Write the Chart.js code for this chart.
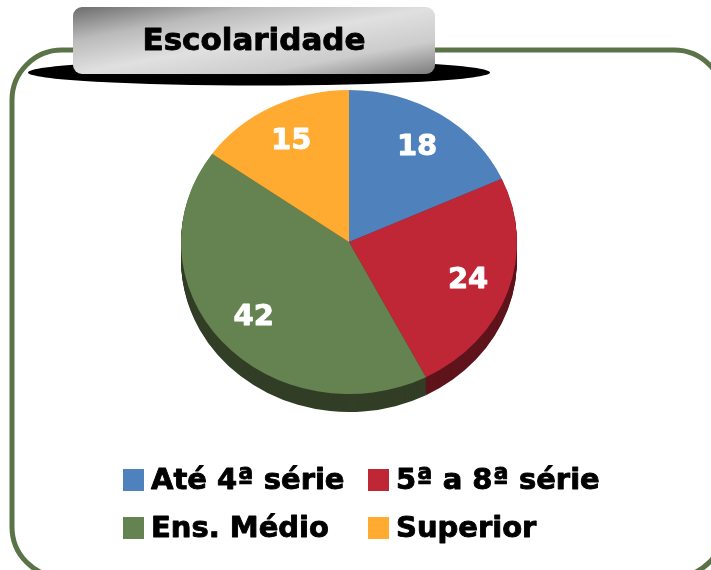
<!DOCTYPE html>
<html>
<head>
<meta charset="utf-8">
<script src="https://cdn.jsdelivr.net/npm/chart.js@4"></script>
<style>
  html, body { margin: 0; padding: 0; background: #fff; overflow: hidden; }
  #wrap { width: 711px; height: 570px; position: relative; }
</style>
</head>
<body>
<div id="wrap"><canvas id="grafico" width="711" height="570"></canvas></div>
<script>
const titulo = "Escolaridade";
const categorias = ["Até 4ª série", "5ª a 8ª série", "Ens. Médio", "Superior"];
const valores = [18, 24, 42, 15];
const cores = ["#4F81BD", "#C02736", "#648350", "#FFAA31"];
const coresLado = ["#2C4A6E", "#5F141C", "#323E26", "#8A5A14"];

const FONTE = "'DejaVu Sans', Verdana, sans-serif";
const ACHATAR = 0.905;   // pie is drawn a bit flattened, like the 3D original
const PROFUNDIDADE = 18;

function roundRect(ctx, x, y, w, h, r) {
    ctx.beginPath();
    ctx.moveTo(x + r, y);
    ctx.lineTo(x + w - r, y);
    ctx.arcTo(x + w, y, x + w, y + r, r);
    ctx.lineTo(x + w, y + h - r);
    ctx.arcTo(x + w, y + h, x + w - r, y + h, r);
    ctx.lineTo(x + r, y + h);
    ctx.arcTo(x, y + h, x, y + h - r, r);
    ctx.lineTo(x, y + r);
    ctx.arcTo(x, y, x + r, y, r);
    ctx.closePath();
}

// bold text drawn a little heavier (the original font is a heavy Verdana)
function textoForte(ctx, txt, x, y, cor) {
    ctx.fillStyle = cor;
    ctx.strokeStyle = cor;
    ctx.lineWidth = 0.9;
    ctx.lineJoin = 'round';
    ctx.fillText(txt, x, y);
    ctx.strokeText(txt, x, y);
}

// frame, shadow and title box
const fundo = {
    id: 'fundo',
    beforeDraw(chart) {
        const ctx = chart.ctx;
        ctx.save();
        ctx.fillStyle = '#fff';
        ctx.fillRect(0, 0, chart.width, chart.height);

        // green rounded frame (right and bottom run off the picture)
        roundRect(ctx, 12, 50, 712, 527, 50);
        ctx.lineWidth = 5;
        ctx.strokeStyle = '#5A7448';
        ctx.stroke();

        // black ellipse under the title
        ctx.beginPath();
        ctx.ellipse(259, 72.5, 231, 13, 0, 0, Math.PI * 2);
        ctx.fillStyle = '#000';
        ctx.fill();

        // title box, diagonal gray shading
        ctx.save();
        roundRect(ctx, 73, 7, 362, 67, 9);
        ctx.clip();
        ctx.translate(73, 7);
        ctx.scale(362, 67);
        let g = ctx.createLinearGradient(0, 0, 1, 1);
        g.addColorStop(0, '#6c6c6c');
        g.addColorStop(0.25, '#bababa');
        g.addColorStop(0.5, '#e0e0e0');
        g.addColorStop(0.75, '#cccccc');
        g.addColorStop(1, '#7c7c7c');
        ctx.fillStyle = g;
        ctx.fillRect(0, 0, 1, 1);
        ctx.restore();

        ctx.font = "bold 31px " + FONTE;
        ctx.textAlign = 'center';
        ctx.textBaseline = 'middle';
        textoForte(ctx, titulo, 254, 42, '#000');
        ctx.restore();
    }
};

// flatten the pie and draw the dark side under it
const pizza3d = {
    id: 'pizza3d',
    beforeDatasetsDraw(chart) {
        const ctx = chart.ctx;
        const arcs = chart.getDatasetMeta(0).data;
        const cx = arcs[0].x, cy = arcs[0].y;
        for (let d = PROFUNDIDADE; d >= 1; d--) {
            ctx.save();
            ctx.translate(cx, cy + d);
            ctx.scale(1, ACHATAR);
            arcs.forEach((a, i) => {
                ctx.beginPath();
                ctx.moveTo(0, 0);
                ctx.arc(0, 0, a.outerRadius, a.startAngle, a.endAngle);
                ctx.closePath();
                ctx.fillStyle = coresLado[i];
                ctx.fill();
            });
            ctx.restore();
        }
        ctx.save();
        ctx.translate(cx, cy);
        ctx.scale(1, ACHATAR);
        ctx.translate(-cx, -cy);
    },
    afterDatasetsDraw(chart) {
        chart.ctx.restore();
    }
};

// value labels and 2x2 legend
const rotulos = {
    id: 'rotulos',
    afterDraw(chart) {
        const ctx = chart.ctx;
        const arcs = chart.getDatasetMeta(0).data;
        ctx.save();
        ctx.font = "bold 29px " + FONTE;
        ctx.textAlign = 'center';
        ctx.textBaseline = 'middle';
        arcs.forEach((a, i) => {
            const meio = (a.startAngle + a.endAngle) / 2;
            const r = a.outerRadius * 0.75;
            const x = a.x + Math.cos(meio) * r;
            const y = a.y + Math.sin(meio) * r * ACHATAR;
            textoForte(ctx, String(valores[i]), x, y + 1, '#fff');
        });

        // legend
        const colX = [123, 368];
        const linY = [480, 528];
        ctx.font = "bold 29px " + FONTE;
        ctx.textAlign = 'left';
        categorias.forEach((c, i) => {
            const x = colX[i % 2], y = linY[Math.floor(i / 2)];
            ctx.fillStyle = cores[i];
            ctx.fillRect(x, y - 11, 21, 22);
            textoForte(ctx, c, x + 28, y + 1, '#000');
        });
        ctx.restore();
    }
};

const ctx = document.getElementById("grafico").getContext("2d");
new Chart(ctx, {
    type: 'pie',
    data: {
        labels: categorias,
        datasets: [{
            data: valores,
            backgroundColor: cores,
            borderWidth: 0,
            clip: false
        }]
    },
    options: {
        responsive: false,
        animation: false,
        events: [],
        layout: { padding: { left: 181, right: 194, top: 74, bottom: 160 } },
        plugins: {
            legend: { display: false },
            tooltip: { enabled: false },
            title: { display: false }
        }
    },
    plugins: [fundo, pizza3d, rotulos]
});
</script>
</body>
</html>
